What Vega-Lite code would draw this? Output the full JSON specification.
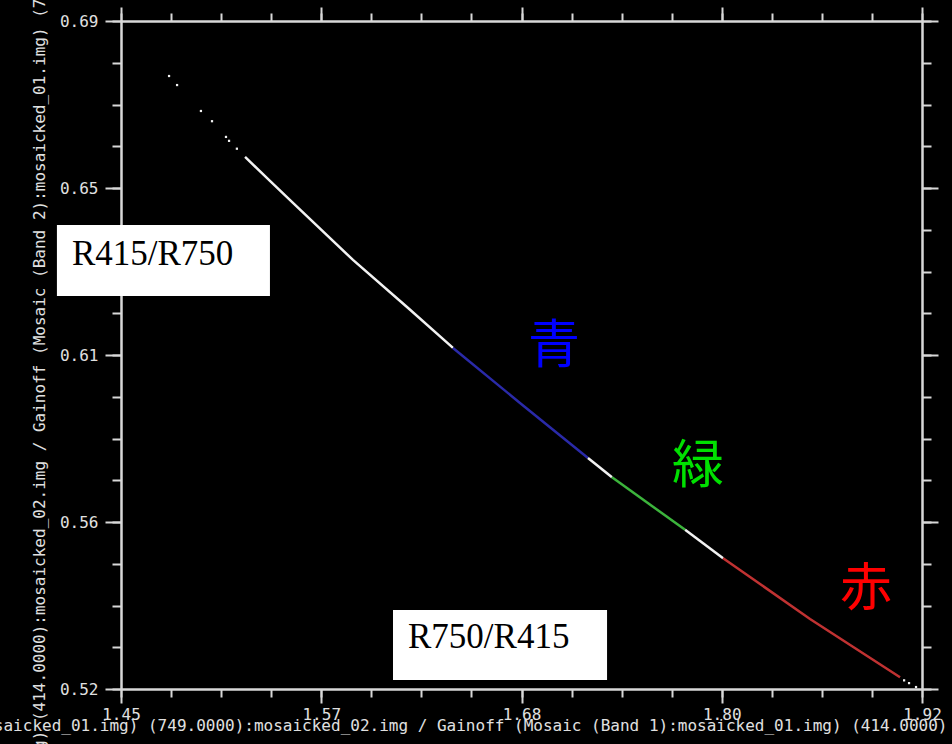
{
  "$schema": "https://vega.github.io/schema/vega-lite/v6.json",
  "width": 801,
  "height": 668,
  "autosize": {"type": "none"},
  "padding": {"left": 121, "top": 21, "right": 30, "bottom": 55},
  "background": "#000000",
  "config": {
    "view": {"stroke": null},
    "axis": {
      "domainColor": "#d8d8d8", "domainWidth": 2,
      "tickColor": "#d8d8d8", "tickWidth": 2,
      "labelColor": "#e0e0e0", "labelFont": "DejaVu Sans Mono", "labelFontSize": 16,
      "labelFlush": false, "labelOverlap": false,
      "titleColor": "#e0e0e0", "titleFont": "DejaVu Sans Mono", "titleFontSize": 16, "titleFontWeight": "normal",
      "grid": false
    }
  },
  "datasets": {
    "curve": [
      {"x": 1.5228, "y": 0.6554, "seg": "w1", "band": "none"},
      {"x": 1.5374, "y": 0.6493, "seg": "w1", "band": "none"},
      {"x": 1.5509, "y": 0.6437, "seg": "w1", "band": "none"},
      {"x": 1.5861, "y": 0.6292, "seg": "w1", "band": "none"},
      {"x": 1.6178, "y": 0.6172, "seg": "w1", "band": "none"},
      {"x": 1.6448, "y": 0.6068, "seg": "w1", "band": "none"},
      {"x": 1.6448, "y": 0.6068, "seg": "b", "band": "blue"},
      {"x": 1.6841, "y": 0.5928, "seg": "b", "band": "blue"},
      {"x": 1.7240, "y": 0.5788, "seg": "b", "band": "blue"},
      {"x": 1.7240, "y": 0.5788, "seg": "w2", "band": "none"},
      {"x": 1.7381, "y": 0.5739, "seg": "w2", "band": "none"},
      {"x": 1.7381, "y": 0.5739, "seg": "g", "band": "green"},
      {"x": 1.7810, "y": 0.5605, "seg": "g", "band": "green"},
      {"x": 1.7810, "y": 0.5605, "seg": "w3", "band": "none"},
      {"x": 1.8033, "y": 0.5533, "seg": "w3", "band": "none"},
      {"x": 1.8033, "y": 0.5533, "seg": "r", "band": "red"},
      {"x": 1.8543, "y": 0.5378, "seg": "r", "band": "red"},
      {"x": 1.9071, "y": 0.5230, "seg": "r", "band": "red"}
    ],
    "dots": [
      {"x": 1.4782, "y": 0.6760},
      {"x": 1.4829, "y": 0.6737},
      {"x": 1.4969, "y": 0.6671},
      {"x": 1.5034, "y": 0.6645},
      {"x": 1.5116, "y": 0.6605},
      {"x": 1.5134, "y": 0.6595},
      {"x": 1.5180, "y": 0.6575},
      {"x": 1.9095, "y": 0.5222},
      {"x": 1.9124, "y": 0.5215},
      {"x": 1.9165, "y": 0.5205}
    ],
    "boxes": [
      {"x1": 1.4124, "x2": 1.5374, "y1": 0.6381, "y2": 0.6200, "tx": 1.4212, "ty": 0.6279, "label": "R415/R750"},
      {"x1": 1.6096, "x2": 1.7352, "y1": 0.5401, "y2": 0.5223, "tx": 1.6184, "ty": 0.5304, "label": "R750/R415"}
    ],
    "notes": [
      {"x": 1.7041, "y": 0.6070, "label": "青"},
      {"x": 1.7886, "y": 0.5765, "label": "緑"},
      {"x": 1.8872, "y": 0.5452, "label": "赤"}
    ]
  },
  "layer": [
    {
      "data": {"name": "curve"},
      "mark": {"type": "line", "strokeWidth": 2.5},
      "encoding": {
        "x": {"field": "x", "type": "quantitative",
          "scale": {"domain": [1.45, 1.92], "nice": false, "zero": false},
          "axis": {"orient": "bottom", "values": [1.45, 1.5675, 1.685, 1.8025, 1.92],
            "labelExpr": "datum.value < 1.5 ? '1.45' : datum.value < 1.6 ? '1.57' : datum.value < 1.7 ? '1.68' : datum.value < 1.85 ? '1.80' : '1.92'",
            "tickSize": 14, "labelPadding": 3,
            "title": "Gainoff (Mosaic (Band 2):mosaicked_01.img) (749.0000):mosaicked_02.img / Gainoff (Mosaic (Band 1):mosaicked_01.img) (414.0000)",
            "titleAlign": "right", "titleAnchor": null, "titleX": 826, "titleY": 36, "titleBaseline": "middle"}},
        "y": {"field": "y", "type": "quantitative",
          "scale": {"domain": [0.52, 0.69], "nice": false, "zero": false},
          "axis": {"orient": "left", "values": [0.52, 0.5625, 0.605, 0.6475, 0.69],
            "labelExpr": "datum.value < 0.54 ? '0.52' : datum.value < 0.58 ? '0.56' : datum.value < 0.62 ? '0.61' : datum.value < 0.67 ? '0.65' : '0.69'",
            "tickSize": 16, "labelPadding": 7,
            "title": "Gainoff (Mosaic (Band 1):mosaicked_01.img) (414.0000):mosaicked_02.img / Gainoff (Mosaic (Band 2):mosaicked_01.img) (749.0000)",
            "titleAngle": 270, "titleAlign": "right", "titleBaseline": "middle", "titleX": -82, "titleY": -100}},
        "detail": {"field": "seg", "type": "nominal"},
        "color": {"field": "band", "type": "nominal",
          "scale": {"domain": ["none", "blue", "green", "red"], "range": ["#f2f2f2", "#2a2aa8", "#3cb43c", "#c03232"]},
          "legend": null}
      }
    },
    {
      "data": {"name": "dots"},
      "mark": {"type": "point", "shape": "square", "filled": true, "size": 5, "color": "#f2f2f2", "opacity": 1},
      "encoding": {
        "x": {"field": "x", "type": "quantitative",
          "scale": {"domain": [1.45, 1.92], "nice": false, "zero": false},
          "axis": {"orient": "bottom", "values": [1.45, 1.479375, 1.50875, 1.538125, 1.5675, 1.596875, 1.62625, 1.655625, 1.685, 1.714375, 1.74375, 1.773125, 1.8025, 1.831875, 1.86125, 1.890625, 1.92],
            "labels": false, "tickSize": 8, "title": null}},
        "y": {"field": "y", "type": "quantitative",
          "scale": {"domain": [0.52, 0.69], "nice": false, "zero": false},
          "axis": {"orient": "left", "values": [0.52, 0.530625, 0.54125, 0.551875, 0.5625, 0.573125, 0.58375, 0.594375, 0.605, 0.615625, 0.62625, 0.636875, 0.6475, 0.658125, 0.66875, 0.679375, 0.69],
            "labels": false, "tickSize": 9, "title": null}}
      }
    },
    {
      "data": {"name": "boxes"},
      "mark": {"type": "rect", "color": "#ffffff", "clip": false},
      "encoding": {
        "x": {"field": "x1", "type": "quantitative",
          "scale": {"domain": [1.45, 1.92], "nice": false, "zero": false},
          "axis": {"orient": "top", "values": [1.45, 1.5675, 1.685, 1.8025, 1.92], "labels": false, "tickSize": 14, "title": null}},
        "x2": {"field": "x2"},
        "y": {"field": "y1", "type": "quantitative",
          "scale": {"domain": [0.52, 0.69], "nice": false, "zero": false},
          "axis": {"orient": "right", "values": [0.52, 0.5625, 0.605, 0.6475, 0.69], "labels": false, "tickSize": 16, "title": null}},
        "y2": {"field": "y2"}
      }
    },
    {
      "data": {"name": "boxes"},
      "mark": {"type": "text", "font": "Liberation Serif", "fontSize": 35, "color": "#000000", "align": "left", "baseline": "alphabetic", "clip": false},
      "encoding": {
        "x": {"field": "tx", "type": "quantitative",
          "scale": {"domain": [1.45, 1.92], "nice": false, "zero": false},
          "axis": {"orient": "top", "values": [1.45, 1.479375, 1.50875, 1.538125, 1.5675, 1.596875, 1.62625, 1.655625, 1.685, 1.714375, 1.74375, 1.773125, 1.8025, 1.831875, 1.86125, 1.890625, 1.92],
            "labels": false, "tickSize": 8, "title": null}},
        "y": {"field": "ty", "type": "quantitative",
          "scale": {"domain": [0.52, 0.69], "nice": false, "zero": false},
          "axis": {"orient": "right", "values": [0.52, 0.530625, 0.54125, 0.551875, 0.5625, 0.573125, 0.58375, 0.594375, 0.605, 0.615625, 0.62625, 0.636875, 0.6475, 0.658125, 0.66875, 0.679375, 0.69],
            "labels": false, "tickSize": 9, "title": null}},
        "text": {"field": "label"}
      }
    },
    {
      "data": {"name": "notes"},
      "mark": {"type": "text", "font": "Noto Sans CJK JP", "fontSize": 52, "align": "center", "baseline": "middle"},
      "encoding": {
        "x": {"field": "x", "type": "quantitative", "scale": {"domain": [1.45, 1.92], "nice": false, "zero": false}, "axis": null},
        "y": {"field": "y", "type": "quantitative", "scale": {"domain": [0.52, 0.69], "nice": false, "zero": false}, "axis": null},
        "text": {"field": "label"},
        "color": {"field": "label", "type": "nominal",
          "scale": {"domain": ["青", "緑", "赤"], "range": ["#0000ff", "#00e000", "#ff0000"]},
          "legend": null}
      }
    }
  ],
  "resolve": {
    "scale": {"color": "independent"},
    "axis": {"x": "independent", "y": "independent"}
  }
}
